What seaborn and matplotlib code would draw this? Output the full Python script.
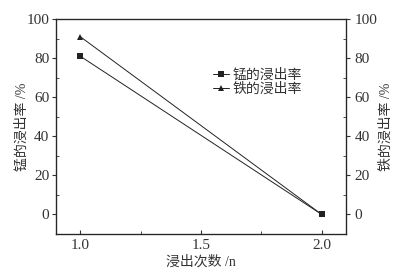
import matplotlib
matplotlib.use("Agg")
import matplotlib.pyplot as plt
import pandas as pd
import seaborn as sns
from matplotlib.ticker import MultipleLocator

times = [1.0, 2.0]
mn_rate = [81, 0]
fe_rate = [91, 0]
labels = ["锰的浸出率", "铁的浸出率"]

sns.set_style("ticks")
plt.rcParams["font.family"] = ["Liberation Serif", "Noto Sans CJK SC"]
plt.rcParams["font.size"] = 10
txt = "#333333"

df = pd.DataFrame({
    "n": times * 2,
    "rate": mn_rate + fe_rate,
    "kind": [labels[0]] * 2 + [labels[1]] * 2,
})

fig = plt.figure(figsize=(4.04, 2.73), dpi=100)
ax = fig.add_axes([0.139, 0.143, 0.717, 0.787])
sns.lineplot(data=df, x="n", y="rate", hue="kind", style="kind",
             palette=["#222222", "#222222"], markers=["s", "^"], dashes=False,
             markersize=4, linewidth=0.7, markeredgewidth=0, ax=ax)

ax.set_xlim(0.9, 2.1)
ax.set_ylim(-10, 100)
ax.xaxis.set_major_locator(MultipleLocator(0.5))
ax.xaxis.set_minor_locator(MultipleLocator(0.25))
ax.yaxis.set_major_locator(MultipleLocator(20))
ax.yaxis.set_minor_locator(MultipleLocator(10))
ax.tick_params(axis="x", which="both", direction="in", colors=txt, labelcolor=txt, labelsize=11)
ax.tick_params(axis="x", which="major", length=3)
ax.tick_params(axis="x", which="minor", length=2)
ax.tick_params(axis="y", which="major", direction="out", length=3, pad=2, colors=txt, labelsize=11)
ax.tick_params(axis="y", which="minor", direction="in", length=2, colors=txt)
for s in ax.spines.values():
    s.set_linewidth(0.9)
    s.set_color("#222222")

ax2 = ax.twinx()
ax2.set_ylim(-10, 100)
ax2.yaxis.set_major_locator(MultipleLocator(20))
ax2.yaxis.set_minor_locator(MultipleLocator(10))
ax2.tick_params(axis="y", which="major", direction="out", length=3, colors=txt, labelsize=11)
ax2.tick_params(axis="y", which="minor", direction="in", length=2, colors=txt)

ax.set_xlabel("浸出次数 /n", color=txt, fontsize=10, labelpad=2)
ax.set_ylabel("锰的浸出率 /%", color=txt, fontsize=10)
ax2.set_ylabel("铁的浸出率 /%", color=txt, fontsize=10)
ax.yaxis.set_label_coords(-0.095, 0.5)
ax2.yaxis.set_label_coords(1.115, 0.5)

ax.legend(title=None, frameon=False, loc="upper left", bbox_to_anchor=(0.5, 0.83),
          fontsize=10, handlelength=1.1, handletextpad=0.3, labelspacing=0.1,
          labelcolor=txt)

fig.savefig("out.png", dpi=100)
